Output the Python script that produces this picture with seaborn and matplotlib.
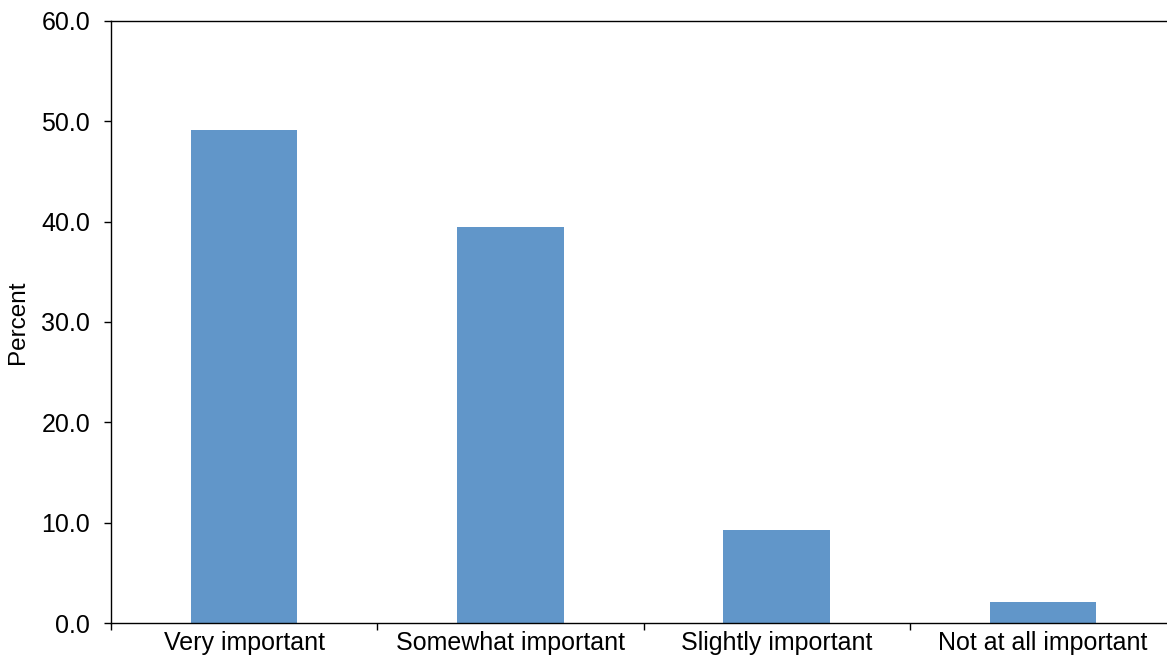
import matplotlib
matplotlib.use("Agg")
import matplotlib.pyplot as plt
from matplotlib.ticker import FixedLocator, FormatStrFormatter
import seaborn as sns
import pandas as pd

# Survey responses: share of respondents by importance rating
categories = ["Very important", "Somewhat important", "Slightly important", "Not at all important"]
percent = [49.1, 39.5, 9.3, 2.1]

sns.set_theme(style="white")
plt.rcParams["font.family"] = ["Liberation Sans", "DejaVu Sans"]

df = pd.DataFrame({"category": categories, "percent": percent})

fig = plt.figure(figsize=(11.67, 6.62), dpi=100)
ax = fig.add_axes([0.0951, 0.0585, 0.9128, 0.9103])

sns.barplot(data=df, x="category", y="percent", color="#6196C9",
            width=0.4, saturation=1, linewidth=0, ax=ax)

ax.set_xlim(-0.5, len(categories) - 0.5)
ax.set_ylim(0, 60)
ax.set_yticks([0, 10, 20, 30, 40, 50, 60])
ax.yaxis.set_major_formatter(FormatStrFormatter("%.1f"))

# Category labels sit between boundary tick marks
ax.xaxis.set_major_locator(FixedLocator([i - 0.5 for i in range(len(categories) + 1)]))
ax.xaxis.set_minor_locator(FixedLocator(list(range(len(categories)))))
ax.set_xticklabels([], minor=False)
ax.set_xticklabels(categories, minor=True)
ax.tick_params(axis="x", which="major", direction="out", length=5, width=1.0,
               color="black", bottom=True)
ax.tick_params(axis="x", which="minor", length=0, pad=5.5, labelsize=18,
               labelcolor="black")
ax.tick_params(axis="y", which="major", direction="out", length=5, width=1.0,
               color="black", left=True, pad=10, labelsize=18,
               labelcolor="black")

ax.set_xlabel("")
ax.set_ylabel("Percent", fontsize=17.5, color="black", labelpad=9)

for side in ["left", "bottom", "top"]:
    ax.spines[side].set_visible(True)
    ax.spines[side].set_color("black")
    ax.spines[side].set_linewidth(1.0)
ax.spines["right"].set_visible(False)

fig.savefig("out.png", dpi=100)
